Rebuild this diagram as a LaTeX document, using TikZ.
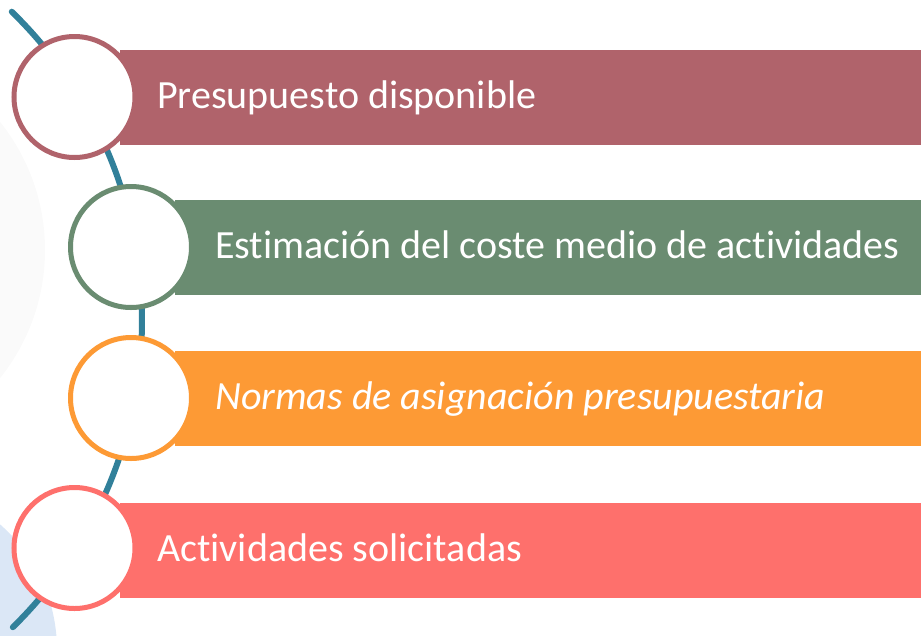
\documentclass[tikz,border=0pt]{standalone}
\usepackage{fontspec}
\setmainfont{Carlito}[Ligatures=NoCommon]

\definecolor{vino}{RGB}{176,99,107}
\definecolor{verde}{RGB}{106,140,113}
\definecolor{naranja}{RGB}{253,154,53}
\definecolor{coral}{RGB}{254,112,108}
\definecolor{azulverde}{RGB}{49,128,154}
\definecolor{celeste}{RGB}{219,231,246}

\begin{document}
\begin{tikzpicture}[x=1pt,y=-1pt,
    barra/.style={rectangle, inner sep=0pt, minimum width=801pt, minimum height=95pt, anchor=west},
    bola/.style={circle, draw=#1, fill=white, line width=5pt, inner sep=0pt, minimum size=121pt},
    texto/.style={text=white, anchor=base west, inner sep=0pt, font=\fontsize{40}{44}\selectfont}]
    \clip (0,0) rectangle (921,635);

    % fondo
    \fill[gray!4] (-160,250) circle (205);
    \fill[celeste] (-110,650) circle (167);

    % arco
    \draw[azulverde, line width=6pt, line cap=round] (-288,320) ++(-45.8:430) arc (-45.8:45.6:430);

    \node[barra, fill=vino] (b1) at (120,97) {};
    \node[barra, fill=verde] (b2) at (175,247) {};
    \node[barra, fill=naranja] (b3) at (175,398) {};
    \node[barra, fill=coral] (b4) at (120,550) {};

    \node[bola=vino] (c1) at (74.5,97) {};
    \node[bola=verde] (c2) at (131,247) {};
    \node[bola=naranja] (c3) at (131,398) {};
    \node[bola=coral] (c4) at (74.5,548) {};

    % etiquetas
    \node[texto] (t1) at (157,108) {Presupuesto disponible};
    \node[texto] (t2) at (215,258) {Estimación del coste medio de actividades};
    \node[texto] (t3) at (215,409) {\itshape Normas de asignación presupuestaria};
    \node[texto] (t4) at (157,561) {Actividades solicitadas};

\end{tikzpicture}
\end{document}
